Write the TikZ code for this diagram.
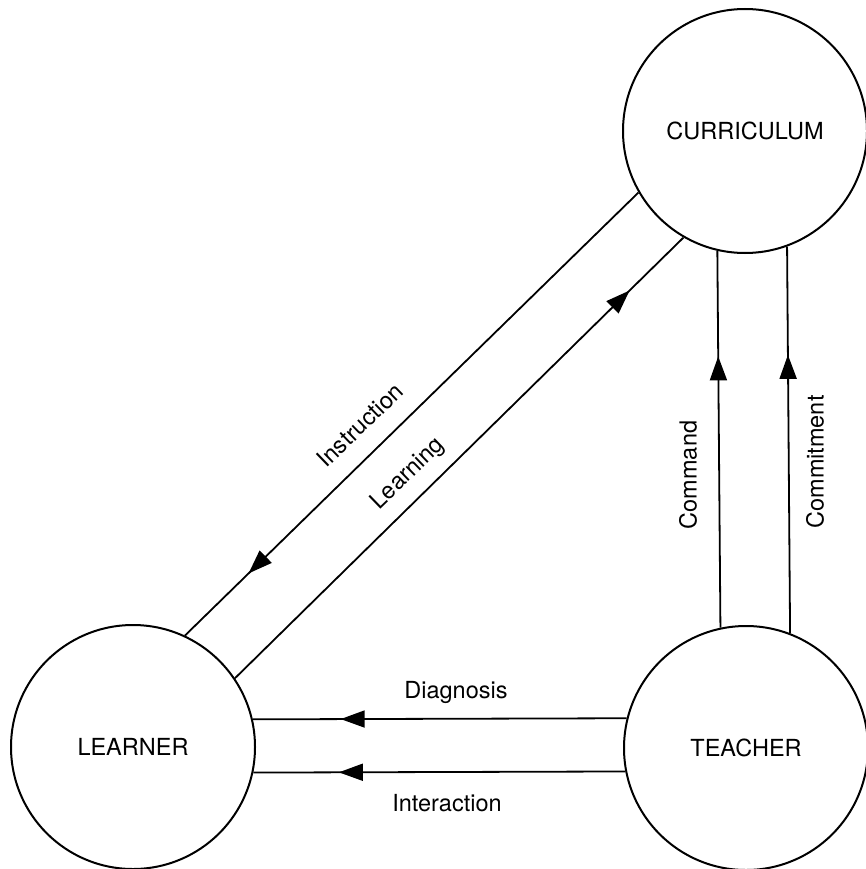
\documentclass[tikz,border=0pt]{standalone}
\usepackage{fontspec}
\setmainfont{TeX Gyre Heros}
\usetikzlibrary{arrows.meta,decorations.markings}

\tikzset{
  party/.style={circle, draw, line width=2pt, minimum size=244pt, inner sep=0pt,
                font=\fontsize{23.5}{28}\selectfont},
  label text/.style={font=\fontsize{23.5}{28}\selectfont, inner sep=0pt},
  flowline/.style={line width=1.8pt, postaction={decorate},
    decoration={markings, mark=at position #1 with
      {\arrow{Triangle[length=24pt,width=17pt]}}}}
}

\begin{document}
\begin{tikzpicture}[x=1pt, y=-1pt]
  \useasboundingbox (0,0) rectangle (865,869);

  % the three parties
  \node[party] (C) at (745,131) {CURRICULUM};
  \node[party] (L) at (133,747) {LEARNER};
  \node[party] (T) at (746,748) {TEACHER};

  % curriculum <-> learner
  \draw[flowline=0.86] (C.210.6) -- (L.65.3);
  \draw[flowline=0.88] (L.34.7) -- (C.240.5);

  % teacher -> curriculum
  \draw[flowline=0.72] (T.102.8) -- (C.257.2);
  \draw[flowline=0.72] (T.69.3) -- (C.290.7);

  % teacher -> learner
  \draw[flowline=0.765] (T.166.7) -- (L.13.3);
  \draw[flowline=0.77] (T.191.3) -- (L.348.7);

  % connector labels
  \node[label text, rotate=44] (lInstr) at (360,425) {Instruction};
  \node[label text, rotate=44] (lLearn) at (408,474) {Learning};
  \node[label text, rotate=90] (lCmd) at (688,475) {Command};
  \node[label text, rotate=90] (lCommit) at (815,462) {Commitment};
  \node[label text] (lDiag) at (456,692) {Diagnosis};
  \node[label text] (lInter) at (447,803) {Interaction};
\end{tikzpicture}
\end{document}
